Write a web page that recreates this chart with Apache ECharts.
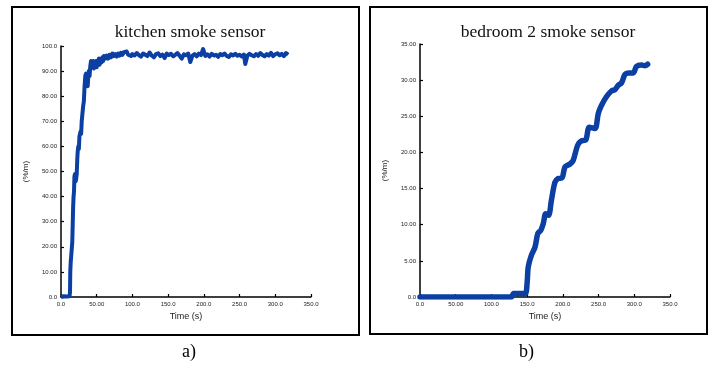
<!DOCTYPE html>
<html>
<head>
<meta charset="utf-8">
<script src="https://cdn.jsdelivr.net/npm/echarts@6/dist/echarts.min.js"></script>
<style>
* { padding: 0; margin: 0; }
body { background: #fff; }
</style>
</head>
<body>
<div id="charts" style="width: 709px; height: 376px"></div>
<script>
// x axis tick labels (shared)
const timeLabels = ["0.0", "50.00", "100.0", "150.0", "200.0", "250.0", "300.0", "350.0"];
const kitchenYLabels = ["0.0", "10.00", "20.00", "30.00", "40.00", "50.00", "60.00", "70.00", "80.00", "90.00", "100.0"];
const bedroomYLabels = ["0.0", "5.00", "10.00", "15.00", "20.00", "25.00", "30.00", "35.00"];

// kitchen smoke sensor
const kitchenTime = [0, 2, 4, 6, 8, 10, 12, 12.6, 13, 13.6, 14.2, 15, 15.8, 16.4, 17, 17.6, 18.2, 18.8, 19.6, 20.4, 21.2, 22, 22.8, 23.4, 24.2, 25, 25.8, 26.6, 27.4, 28.2, 29, 30, 31, 32, 33, 34, 35, 35.8, 36.6, 37.4, 38.2, 39, 40, 41, 42, 43, 44, 45, 46, 47, 48, 49, 50, 51, 52, 53, 54, 55, 56, 57, 58, 59, 60, 62, 64, 66, 68, 70, 72, 74, 76, 78, 80, 82, 84, 86, 88, 90, 92, 94, 96, 98, 100,
  103, 106, 109, 112, 115, 118, 121, 124, 127, 130, 133, 136, 139, 142, 145, 148, 151, 154, 157, 160, 163, 166, 169, 172, 175, 178, 181, 184, 187, 190, 193, 196, 199, 202, 205, 208, 211, 214, 217, 220, 223, 226, 229, 232, 235, 238, 241, 244, 247, 250, 253, 256, 258, 261, 264, 267, 270, 273, 276, 279, 282, 285, 288, 291, 294, 297, 300, 303, 306, 309, 312, 315, 318];
const kitchenVal = [0, 0, 0.3, 0, 0.2, 0, 0.3, 2, 10, 14, 16, 15.5, 22, 29, 36, 40, 42, 48, 49, 46, 47, 49, 55, 58, 60, 59, 64, 65, 66, 65, 70, 73, 76, 78, 84, 88, 89, 85, 88, 84, 88, 90, 88, 92, 94, 93, 92, 94, 91, 93, 92, 94, 91.5, 94, 93, 95, 92.5, 94.5, 95, 93.5, 95.5, 94, 96, 95, 96.2, 95, 96.5, 95.5, 97, 96, 96.8, 95.8, 97, 96.2, 97.3, 96.5, 97.5, 97, 97.8, 96.5, 97, 96, 96.8,
  96.2, 97.2, 96.4, 95.8, 97, 96.5, 96, 97.4, 96.2, 95.5, 96.8, 97.1, 96, 96.6, 95.2, 97, 96.4, 96.9, 95.9, 96.5, 97.2, 96.1, 95, 96.7, 96.3, 97, 93.6, 96.2, 96.8, 95.9, 97, 96.4, 98.8, 96, 96.7, 95.8, 96.9, 96.2, 96.5, 95.7, 96.8, 96.3, 97, 96, 95.6, 96.7, 96.2, 96.9, 96.1, 96.5, 95.8, 96.6, 92.8, 96.2, 96.9, 96.3, 95.9, 96.8, 96.1, 97.2, 96.4, 95.9, 96.8, 96.2, 97.3, 96, 96.7, 97.1, 96.3, 96.9, 96, 97.2, 96.5, 96.2];

// bedroom 2 smoke sensor
const bedroomTime = [0, 20, 40, 60, 80, 100, 120, 128, 131, 135, 140, 145, 148, 150, 151.6, 156, 161, 165, 169, 172.7, 176, 180, 184, 189, 193.7, 199, 203, 210, 214.5, 220.7, 226, 232, 237, 245, 249.6, 254, 261, 268, 273, 277.6, 282, 287, 291.7, 298.6, 303, 310, 315, 318.7];
const bedroomVal = [0, 0, 0, 0, 0, 0, 0, 0, 0.5, 0.5, 0.5, 0.5, 0.5, 2, 4.2, 5.8, 6.9, 8.8, 9.2, 10.2, 11.5, 11.3, 13.4, 15.9, 16.4, 16.5, 18.0, 18.4, 18.9, 21.0, 21.6, 21.7, 23.5, 23.3, 25.4, 26.5, 27.7, 28.5, 28.7, 29.3, 29.6, 30.8, 31.0, 31.0, 31.9, 32.1, 32.0, 32.2];

const lineColor = "#0b3fa3";

function xAxisFor(gridIndex) {
  return {
    gridIndex: gridIndex,
    type: "value",
    min: 0,
    max: 350,
    interval: 50,
    name: "Time (s)",
    nameLocation: "middle",
    nameGap: 12,
    nameTextStyle: { fontFamily: "Liberation Sans", fontSize: 9, color: "#222" },
    axisLine: { lineStyle: { color: "#000", width: 1.5 } },
    axisTick: { show: true, inside: true, length: 3, lineStyle: { color: "#000", width: 1.2 } },
    axisLabel: {
      fontFamily: "Liberation Sans",
      fontSize: 6,
      color: "#222",
      margin: 4,
      formatter: (v) => timeLabels[Math.round(v / 50)],
    },
    splitLine: { show: false },
  };
}

function yAxisFor(gridIndex, max, interval, labels) {
  return {
    gridIndex: gridIndex,
    type: "value",
    min: 0,
    max: max,
    interval: interval,
    name: "(%/m)",
    nameLocation: "middle",
    nameRotate: 90,
    nameGap: 31,
    nameTextStyle: { fontFamily: "Liberation Sans", fontSize: 8, color: "#222" },
    axisLine: { show: true, lineStyle: { color: "#000", width: 1.5 } },
    axisTick: { show: true, inside: true, length: 3, lineStyle: { color: "#000", width: 1.2 } },
    axisLabel: {
      fontFamily: "Liberation Sans",
      fontSize: 6,
      color: "#222",
      margin: 4,
      formatter: (v) => labels[Math.round(v / interval)],
    },
    splitLine: { show: false },
  };
}

const chart = echarts.init(document.getElementById("charts"));
chart.setOption({
  animation: false,
  backgroundColor: "#fff",
  title: [
    {
      text: "kitchen smoke sensor",
      left: 185,
      top: 18,
      textAlign: "center",
      textStyle: { fontFamily: "Liberation Serif", fontSize: 17.5, fontWeight: "normal", color: "#111" },
    },
    {
      text: "bedroom 2 smoke sensor",
      left: 543,
      top: 18,
      textAlign: "center",
      textStyle: { fontFamily: "Liberation Serif", fontSize: 17.5, fontWeight: "normal", color: "#111" },
    },
  ],
  grid: [
    { left: 61, top: 46, width: 250, height: 251 },
    { left: 420, top: 44, width: 250, height: 253 },
  ],
  xAxis: [xAxisFor(0), xAxisFor(1)],
  yAxis: [yAxisFor(0, 100, 10, kitchenYLabels), yAxisFor(1, 35, 5, bedroomYLabels)],
  series: [
    {
      name: "kitchen",
      type: "line",
      xAxisIndex: 0,
      yAxisIndex: 0,
      data: kitchenTime.map((t, i) => [t, kitchenVal[i]]),
      showSymbol: false,
      lineStyle: { width: 4, color: lineColor, join: "round" },
    },
    {
      name: "bedroom 2",
      type: "line",
      xAxisIndex: 1,
      yAxisIndex: 1,
      data: bedroomTime.map((t, i) => [t, bedroomVal[i]]),
      showSymbol: false,
      smooth: 0.3,
      lineStyle: { width: 5.5, color: lineColor, cap: "round", join: "round" },
    },
  ],
  graphic: [
    { type: "rect", shape: { x: 12, y: 7, width: 347, height: 328 }, style: { fill: "none", stroke: "#000", lineWidth: 2 } },
    { type: "rect", shape: { x: 370, y: 7, width: 337, height: 327 }, style: { fill: "none", stroke: "#000", lineWidth: 2 } },
    { type: "text", left: 182, top: 343, style: { text: "a)", font: "18px 'Liberation Serif'", fill: "#000" } },
    { type: "text", left: 519, top: 343, style: { text: "b)", font: "18px 'Liberation Serif'", fill: "#000" } },
  ],
});
</script>
</body>
</html>
